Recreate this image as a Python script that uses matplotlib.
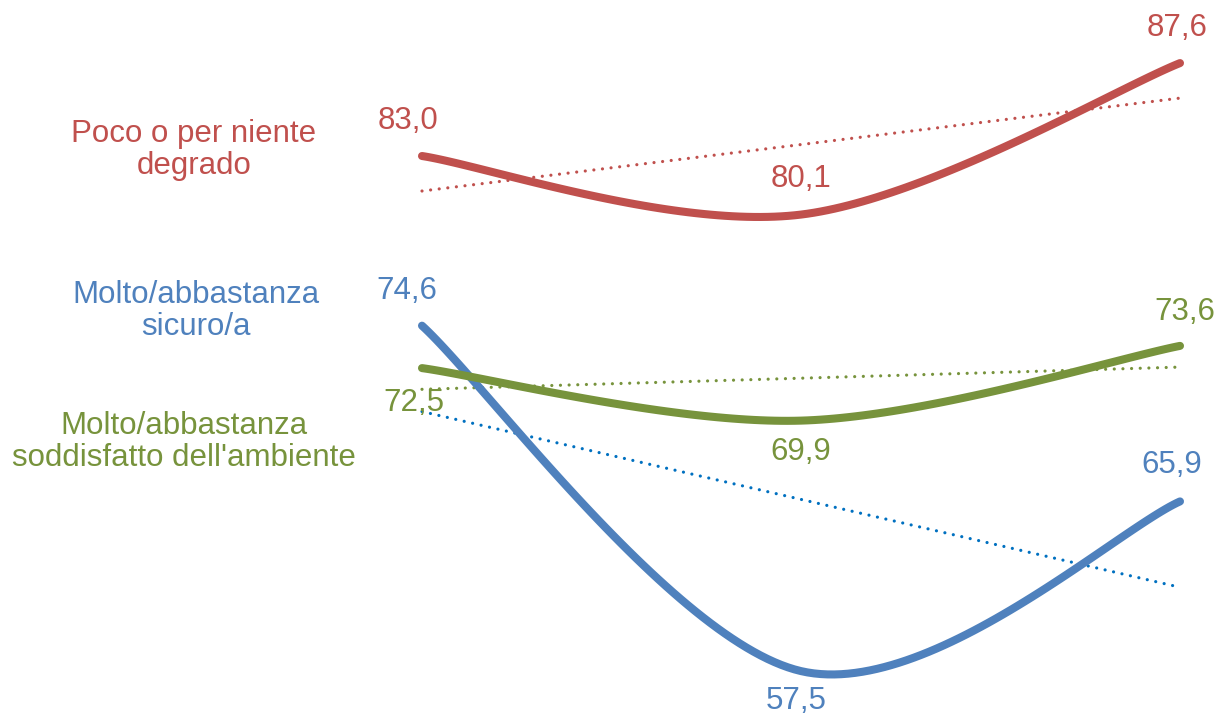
import matplotlib

matplotlib.use("Agg")
import matplotlib.pyplot as plt
import numpy as np

# three survey waves, no axis shown
periods = [0, 1, 2]
degrado = [83.0, 80.1, 87.6]
sicuro = [74.6, 57.5, 65.9]
ambiente = [72.5, 69.9, 73.6]

series_names = [
    "Poco o per niente\ndegrado",
    "Molto/abbastanza\nsicuro/a",
    "Molto/abbastanza\nsoddisfatto dell'ambiente",
]

RED = "#C0504D"
BLUE = "#4F81BD"
GREEN = "#77933C"
BLUE_TREND = "#0070C0"

plt.rcParams["font.family"] = ["Liberation Sans", "DejaVu Sans"]

W, H = 1215, 717
fig = plt.figure(figsize=(W / 100, H / 100), dpi=100)
ax = fig.add_axes([0, 0, 1, 1])
ax.set_axis_off()

# pixel anchors: x=0 -> 422px, x=2 -> 1180px; 83.0 -> 156px from top, 20.2 px per unit
px_x = (1180 - 422) / 2
ax.set_xlim(-422 / px_x, (W - 422) / px_x)
py = 20.2
ax.set_ylim(83.0 - (H - 156) / py, 83.0 + 156 / py)


def smooth(xs, ys, n=60):
    """Excel-style smoothed line: cubic Bezier with Catmull-Rom tangents."""
    p = np.column_stack([xs, ys]).astype(float)
    pts = []
    for i in range(len(p) - 1):
        p_prev = p[max(i - 1, 0)]
        p_next2 = p[min(i + 2, len(p) - 1)]
        c1 = p[i] + (p[i + 1] - p_prev) / 6
        c2 = p[i + 1] - (p_next2 - p[i]) / 6
        t = np.linspace(0, 1, n)[:, None]
        seg = ((1 - t) ** 3 * p[i] + 3 * (1 - t) ** 2 * t * c1
               + 3 * (1 - t) * t ** 2 * c2 + t ** 3 * p[i + 1])
        pts.append(seg if i == 0 else seg[1:])
    pts = np.vstack(pts)
    return pts[:, 0], pts[:, 1]


# (values, colour, trend colour, label offsets in px, name position in px)
specs = [
    (degrado, RED, RED, [(-14, 35), (0, 36), (-3, 35)], (194, 150)),
    (sicuro, BLUE, BLUE_TREND, [(-15, 35), (-5, -30), (-8, 36)], (196, 311)),
    (ambiente, GREEN, GREEN, [(-8, -35), (0, -31), (5, 34)], (184, 442)),
]

for (vals, col, tcol, offs, name_pos), name in zip(specs, series_names):
    # linear trendline
    k, b = np.polyfit(periods, vals, 1)
    tx = np.array([periods[0], periods[-1]])
    ax.plot(tx, k * tx + b, color=tcol, lw=2.3, linestyle=(0, (0.01, 2.7)),
            dash_capstyle="round", zorder=2)

    sx, sy = smooth(periods, vals)
    ax.plot(sx, sy, color=col, lw=5.8, solid_capstyle="round", zorder=3)

    for x, v, (dx, dy) in zip(periods, vals, offs):
        ax.annotate(f"{v:.1f}".replace(".", ","), (x, v),
                    xytext=(dx * 0.72, dy * 0.72), textcoords="offset points",
                    ha="center", va="center", fontsize=22.5, color=col, zorder=4)

    fig.text(name_pos[0] / W, 1 - name_pos[1] / H, name, ha="center", va="center",
             fontsize=22.5, color=col, linespacing=1.1)

fig.savefig("out.png", dpi=100)
